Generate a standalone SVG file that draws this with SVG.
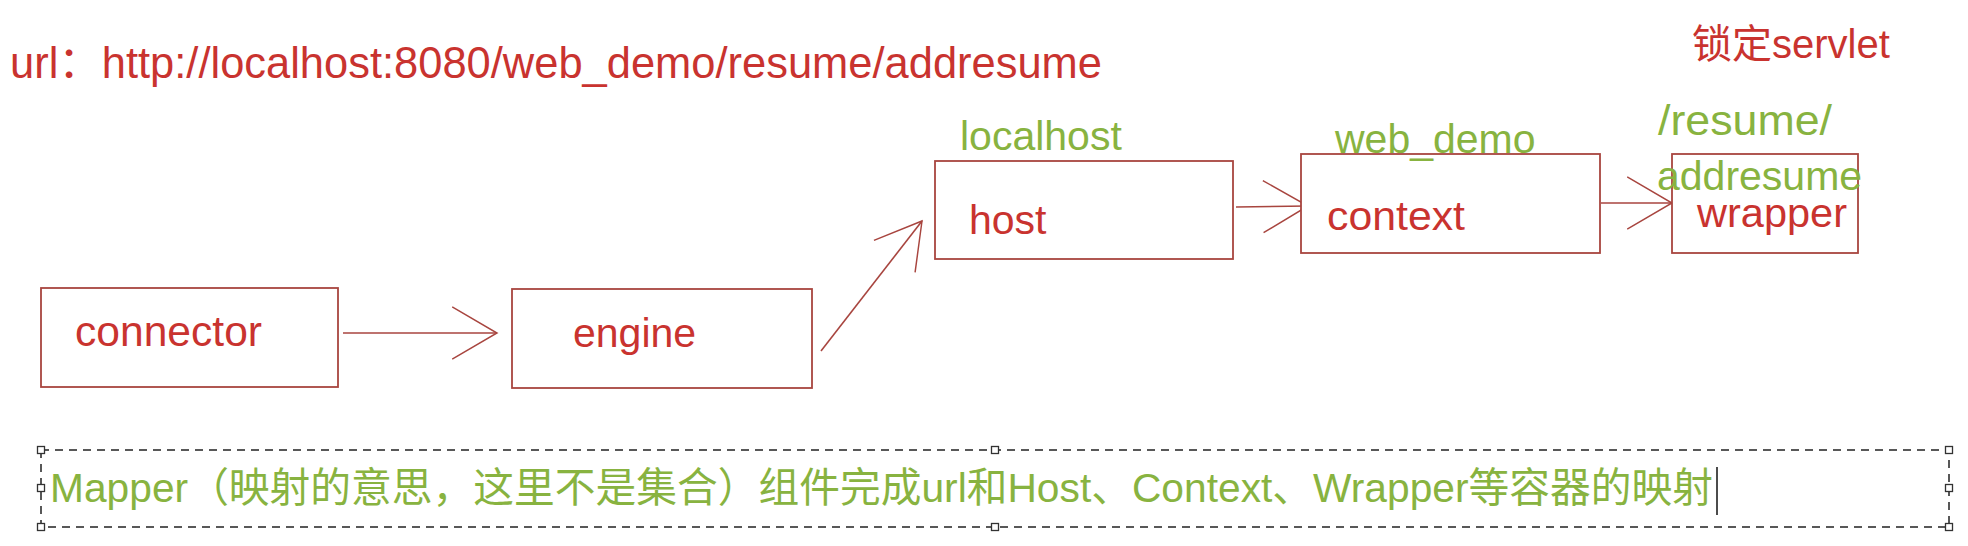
<svg xmlns="http://www.w3.org/2000/svg" width="1968" height="546" viewBox="0 0 1968 546">
<style>
text{font-family:"Liberation Sans","Noto Sans CJK SC",sans-serif;}
.red{fill:#c9332f;font-size:41px;}
.grn{fill:#88b340;font-size:41px;}
.box{fill:#fff;stroke:#a8453f;stroke-width:1.8;}
.conn{stroke:#a8453f;stroke-width:1.6;fill:none;}
.h{fill:#fff;stroke:#333;stroke-width:1.3;}
</style>
<defs>
<marker id="arr" markerUnits="userSpaceOnUse" markerWidth="50" markerHeight="60" refX="0" refY="0" viewBox="-46 -28 48 56" orient="auto" overflow="visible">
<path d="M-43,-25 L0,0 L-43,25" fill="none" stroke="#a8453f" stroke-width="1.4"/>
</marker>
</defs>
<rect width="1968" height="546" fill="#fff"/>
<text class="red" x="10" y="78" style="font-size:44px" textLength="1092" lengthAdjust="spacingAndGlyphs">url：http://localhost:8080/web_demo/resume/addresume</text>
<text class="red" x="1692" y="58" style="font-size:40px">锁定servlet</text>
<g id="connectors">
<line class="conn" x1="343" y1="333" x2="497" y2="333" marker-end="url(#arr)"/>
<line class="conn" x1="821" y1="351" x2="922" y2="221" marker-end="url(#arr)"/>
<line class="conn" x1="1236" y1="207" x2="1308" y2="206" marker-end="url(#arr)"/>
<line class="conn" x1="1601" y1="203" x2="1672" y2="203" marker-end="url(#arr)"/>
</g>
<g id="connector">
<rect class="box" x="41" y="288" width="297" height="99"/>
<text class="red" x="75" y="346" style="font-size:42px" textLength="187" lengthAdjust="spacingAndGlyphs">connector</text>
</g>
<g id="engine">
<rect class="box" x="512" y="289" width="300" height="99"/>
<text class="red" x="573" y="347">engine</text>
</g>
<g id="host">
<rect class="box" x="935" y="161" width="298" height="98"/>
<text class="red" x="969" y="234">host</text>
<text class="grn" x="960" y="150">localhost</text>
</g>
<g id="context">
<rect class="box" x="1301" y="154" width="299" height="99"/>
<text class="red" x="1327" y="230" textLength="138" lengthAdjust="spacingAndGlyphs">context</text>
<text class="grn" x="1335" y="153">web_demo</text>
</g>
<g id="wrapper">
<rect class="box" x="1672" y="154" width="186" height="99"/>
<text class="red" x="1697" y="227" textLength="150" lengthAdjust="spacingAndGlyphs">wrapper</text>
<text class="grn" x="1658" y="135" style="font-size:43px" textLength="174" lengthAdjust="spacingAndGlyphs">/resume/</text>
<text class="grn" x="1657" y="190">addresume</text>
</g>
<g id="mapper-note">
<rect x="41" y="450" width="1908" height="77" fill="none" stroke="#222" stroke-width="1.5" stroke-dasharray="8 6"/>
<rect class="h" x="37.5" y="446.5" width="7" height="7"/>
<rect class="h" x="991.5" y="446.5" width="7" height="7"/>
<rect class="h" x="1945.5" y="446.5" width="7" height="7"/>
<rect class="h" x="37.5" y="484.5" width="7" height="7"/>
<rect class="h" x="1945.5" y="484.5" width="7" height="7"/>
<rect class="h" x="37.5" y="523.5" width="7" height="7"/>
<rect class="h" x="991.5" y="523.5" width="7" height="7"/>
<rect class="h" x="1945.5" y="523.5" width="7" height="7"/>
<text class="grn" x="50" y="502" style="font-size:41px" textLength="1663" lengthAdjust="spacingAndGlyphs">Mapper（映射的意思，这里不是集合）组件完成url和Host、Context、Wrapper等容器的映射</text>
<line x1="1717" y1="467" x2="1717" y2="515" stroke="#111" stroke-width="1.5"/>
</g>
</svg>
